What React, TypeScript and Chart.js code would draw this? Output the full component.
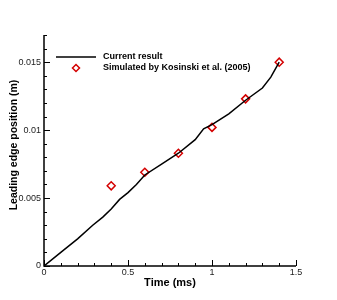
import React, { useEffect, useRef } from "react";
import { Chart, registerables } from "chart.js";
Chart.register(...registerables);

const lineX = [0, 0.1, 0.2, 0.29, 0.35, 0.4, 0.45, 0.5, 0.55, 0.6, 0.7, 0.8, 0.9, 0.95, 1.0, 1.1, 1.2, 1.3, 1.35, 1.4];
const lineY = [0, 0.001, 0.002, 0.003, 0.0036, 0.0042, 0.0049, 0.0054, 0.006, 0.0067, 0.0075, 0.0083, 0.0093, 0.0101, 0.0104, 0.0112, 0.0122, 0.0131, 0.0139, 0.015];
const simX = [0.4, 0.6, 0.8, 1.0, 1.2, 1.4];
const simY = [0.0059, 0.0069, 0.0083, 0.0102, 0.0123, 0.015];
const xTicks = [0, 0.5, 1, 1.5];
const xTickLabels = ["0", "0.5", "1", "1.5"];
const yTicks = [0, 0.005, 0.01, 0.015];
const yTickLabels = ["0", "0.005", "0.01", "0.015"];
const seriesNames = ["Current result", "Simulated by Kosinski et al. (2005)"];
const yTitle = "Leading edge position (m)";

const FONT = "'Liberation Sans', Arial, sans-serif";

const axesPlugin = {
  id: "axesPlugin",
  afterDraw(chart: any) {
    const ctx = chart.ctx;
    const { left, top, bottom } = chart.chartArea;
    const xs = chart.scales.x;
    const ys = chart.scales.y;
    ctx.save();
    ctx.strokeStyle = "#000";
    ctx.lineWidth = 1.5;
    ctx.beginPath();
    ctx.moveTo(left, top);
    ctx.lineTo(left, bottom);
    ctx.lineTo(xs.getPixelForValue(1.5), bottom);
    ctx.stroke();
    ctx.lineWidth = 1;
    ctx.beginPath();
    for (let i = 0; i <= 15; i++) {
      const v = i / 10;
      const px = Math.round(xs.getPixelForValue(v)) + 0.5;
      const len = i % 5 === 0 ? 6 : 3;
      ctx.moveTo(px, bottom);
      ctx.lineTo(px, bottom - len);
    }
    for (let i = 0; i <= 17; i++) {
      const v = i / 1000;
      const py = Math.round(ys.getPixelForValue(v)) + 0.5;
      const len = i % 5 === 0 ? 6 : 3;
      ctx.moveTo(left, py);
      ctx.lineTo(left + len, py);
    }
    ctx.stroke();
    // legend
    ctx.lineWidth = 1.5;
    ctx.beginPath();
    ctx.moveTo(56, 57);
    ctx.lineTo(96, 57);
    ctx.stroke();
    ctx.strokeStyle = "#d40000";
    ctx.beginPath();
    ctx.moveTo(76, 64.5);
    ctx.lineTo(79.5, 68);
    ctx.lineTo(76, 71.5);
    ctx.lineTo(72.5, 68);
    ctx.closePath();
    ctx.stroke();
    ctx.fillStyle = "#000";
    ctx.font = "bold 9px " + FONT;
    ctx.textBaseline = "middle";
    ctx.textAlign = "left";
    ctx.fillText(seriesNames[0], 103, 57);
    ctx.fillText(seriesNames[1], 103, 68);
    // y title
    ctx.translate(14, 145);
    ctx.rotate(-Math.PI / 2);
    ctx.textAlign = "center";
    ctx.font = "bold 10.5px " + FONT;
    ctx.fillText(yTitle, 0, 0);
    ctx.restore();
  },
};

export default function App() {
  const ref = useRef<HTMLCanvasElement>(null);
  useEffect(() => {
    const chart = new Chart(ref.current!, {
      type: "scatter",
      data: {
        datasets: [
          {
            label: seriesNames[0],
            data: lineX.map((x, i) => ({ x, y: lineY[i] })),
            showLine: true,
            borderColor: "#000",
            borderWidth: 1.5,
            pointRadius: 0,
            tension: 0,
          },
          {
            label: seriesNames[1],
            data: simX.map((x, i) => ({ x, y: simY[i] })),
            showLine: false,
            pointStyle: "rectRot",
            pointRadius: 4,
            pointBorderColor: "#d40000",
            pointBackgroundColor: "rgba(0,0,0,0)",
            pointBorderWidth: 1.5,
          },
        ],
      },
      options: {
        animation: false,
        responsive: false,
        maintainAspectRatio: false,
        layout: { padding: { left: 0, top: 35, right: 41, bottom: 0 } },
        plugins: { legend: { display: false }, tooltip: { enabled: false } },
        scales: {
          x: {
            type: "linear",
            min: 0,
            max: 1.5,
            afterBuildTicks: (s: any) => { s.ticks = xTicks.map((v) => ({ value: v })); },
            afterFit: (s: any) => { s.height = 34; },
            grid: { display: false, drawTicks: false },
            border: { display: false },
            ticks: {
              padding: 1,
              color: "#222",
              font: { family: FONT, size: 9 },
              callback: (v: any) => xTickLabels[xTicks.indexOf(Number(v))] ?? "",
            },
            title: {
              display: true,
              text: "Time (ms)",
              color: "#000",
              font: { family: FONT, size: 11, weight: "bold" },
              padding: { top: 0, bottom: 10 },
            },
          },
          y: {
            type: "linear",
            min: 0,
            max: 0.017,
            afterBuildTicks: (s: any) => { s.ticks = yTicks.map((v) => ({ value: v })); },
            afterFit: (s: any) => { s.width = 44; },
            grid: { display: false, drawTicks: false },
            border: { display: false },
            ticks: {
              padding: 3,
              color: "#222",
              font: { family: FONT, size: 9 },
              callback: (v: any) => {
                const i = yTicks.findIndex((t) => Math.abs(t - Number(v)) < 1e-9);
                return i >= 0 ? yTickLabels[i] : "";
              },
            },
          },
        },
      },
      plugins: [axesPlugin],
    } as any);
    return () => chart.destroy();
  }, []);
  return (
    <div style={{ position: "absolute", left: 0, top: 0, width: 337, height: 300, background: "#fff" }}>
      <canvas ref={ref} width={337} height={300} />
    </div>
  );
}
